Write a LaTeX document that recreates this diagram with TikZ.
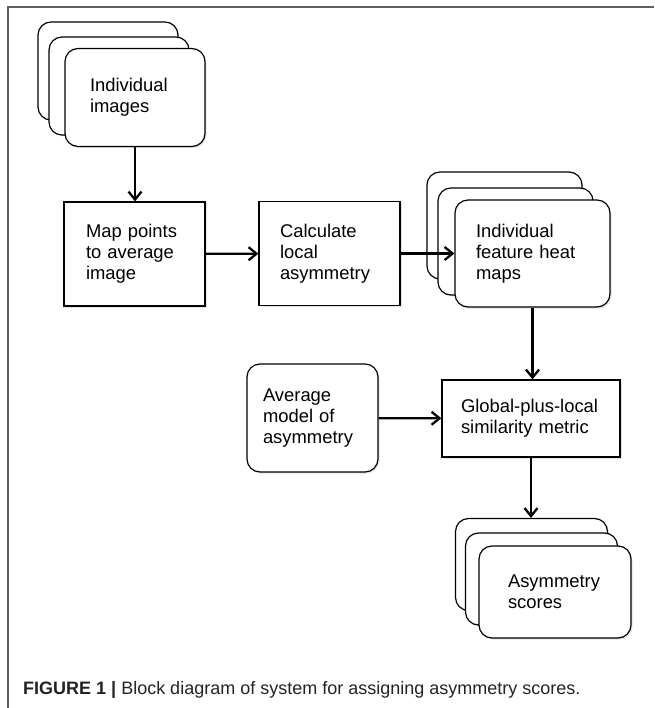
\documentclass[tikz,border=0pt]{standalone}
\usepackage{fontspec}
\setmainfont{Liberation Sans}
\usetikzlibrary{arrows.meta,shadows}
\definecolor{framegray}{RGB}{95,95,95}
\definecolor{captiongray}{RGB}{35,35,35}

\begin{document}
\begin{tikzpicture}[x=1pt, y=-1pt,
    box/.style={draw, line width=1.2pt, fill=white, align=left, inner sep=0pt,
        font=\fontsize{18.4}{21}\selectfont,
        drop shadow={shadow xshift=1.5pt, shadow yshift=-1.5pt, opacity=0.22}},
    card/.style={box, rounded corners=13pt},
    arr/.style={line width=2.3pt, -{Straight Barb[length=8pt, width=13pt]}}]
    \useasboundingbox (0,0) rectangle (654,708);
    \draw[framegray, line width=1.5pt] (8,708) -- (8,7) -- (654,7);

    \node[card, minimum width=140pt, minimum height=98pt] (img-back) at (108,71) {};
    \node[card, minimum width=140pt, minimum height=98pt] (img-mid) at (119,86) {};
    \node[card, minimum width=140pt, minimum height=98pt, text width=90pt] (img) at (135,97.5) {Individual\\images};

    \node[box, minimum width=141pt, minimum height=104pt, text width=97pt] (map) at (134.5,254) {Map points\\to average\\image};
    \node[box, minimum width=141pt, minimum height=104pt, text width=99pt] (calc) at (329.5,253.5) {Calculate\\local\\asymmetry};

    \node[card, minimum width=155pt, minimum height=107pt] (heat-back) at (504.5,225.5) {};
    \node[card, minimum width=155pt, minimum height=107pt] (heat-mid) at (515.5,241.5) {};
    \node[card, minimum width=155pt, minimum height=107pt, text width=113pt] (heat) at (532.5,253.5) {Individual\\feature heat\\maps};

    \node[card, minimum width=131pt, minimum height=108pt, text width=99pt] (avg) at (312.5,418) {Average\\model of\\asymmetry};
    \node[box, minimum width=178pt, minimum height=77pt, text width=140pt] (global) at (531,418.5) {Global-plus-local\\similarity metric};

    \node[card, minimum width=152pt, minimum height=92pt] (scores-back) at (531.5,564.5) {};
    \node[card, minimum width=152pt, minimum height=92pt] (scores-mid) at (541.5,579) {};
    \node[card, minimum width=152pt, minimum height=92pt, text width=94pt] (scores) at (555,592) {Asymmetry\\scores};

    \draw[arr] (img.south) -- (img.south |- map.north);
    \draw[arr] (map) -- (calc);
    \draw[arr] (calc) -- (heat);
    \draw[arr] (heat.south) -- (heat.south |- global.north);
    \draw[arr] (avg) -- (global);
    \draw[arr] (global.south) -- (global.south |- scores-back.north);

    \node[anchor=base west, inner sep=0pt, text=captiongray, font=\fontsize{18}{20}\selectfont] (caption) at (23,694)
        {\textbf{FIGURE 1 |} Block diagram of system for assigning asymmetry scores.};
\end{tikzpicture}
\end{document}
